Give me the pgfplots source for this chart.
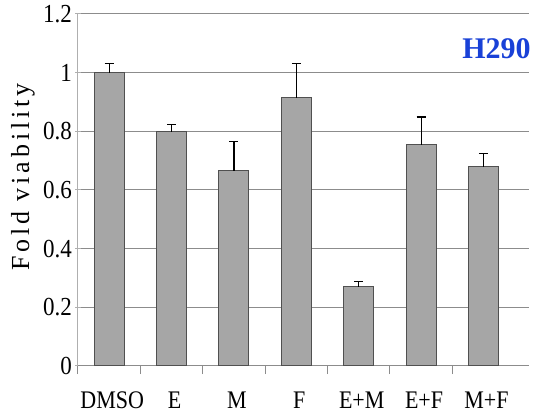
\documentclass[border=0pt]{standalone}
\usepackage{fontspec}
\setmainfont{Liberation Serif}
\usepackage{pgfplots}
\pgfplotsset{compat=1.18}
\definecolor{barfill}{RGB}{166,166,166}
\definecolor{bardraw}{RGB}{80,80,80}
\definecolor{gridc}{RGB}{140,140,140}
\definecolor{axisc}{RGB}{175,175,175}
\definecolor{titleblue}{RGB}{25,65,215}
\begin{document}
\begin{tikzpicture}
\useasboundingbox (-78pt,-48pt) rectangle (459pt,366pt);
\begin{axis}[
  at={(0,0)}, anchor=south west,
  scale only axis, width=451pt, height=352pt,
  xmin=-0.5, xmax=6.73, ymin=0, ymax=1.2,
  axis x line*=bottom, axis y line*=left,
  x axis line style={gridc, line width=1pt, -},
  y axis line style={axisc, line width=1pt, -},
  ytick={0,0.2,0.4,0.6,0.8,1,1.2},
  yticklabels={0,0.2,0.4,0.6,0.8,1,1.2},
  ymajorgrids, grid style={gridc, line width=1pt},
  ytick style={axisc, line width=1pt},
  y tick label style={/pgf/number format/assume math mode=true, font=\fontsize{23}{27}\selectfont, yscale=1.13},
  major tick length=5pt, tick align=center,
  xtick={0,1,2,3,4,5,6},
  xticklabels={DMSO,E,M,F,E+M,E+F,M+F},
  xtick style={draw=none},
  extra x ticks={-0.5,0.5,1.5,2.5,3.5,4.5,5.5},
  extra x tick labels={},
  extra x tick style={xtick style={draw=gridc, line width=1pt}, major tick length=8pt, tick align=outside, grid=none},
  x tick label style={yshift=-19pt, xshift=3pt, font=\fontsize{22}{26}\selectfont, yscale=1.15},
  ylabel={\addfontfeatures{LetterSpace=15}Fold viability},
  ylabel style={font=\fontsize{26}{30}\selectfont, at={(axis description cs:-0.122,0.537)}, anchor=center},
]
\addplot[ybar, bar width=30pt, fill=barfill, draw=bardraw, line width=1pt,
  error bars/.cd, y dir=plus, y explicit,
  error bar style={black, line width=1.1pt},
  error mark options={rotate=90, mark size=4.5pt, black, line width=1.1pt}]
  table[x=x, y=y, y error=e]{
x y e
0 1.000 0.031
1 0.799 0.024
2 0.666 0.100
3 0.914 0.116
4 0.270 0.019
5 0.754 0.095
6 0.680 0.045
};
\node[anchor=east, inner sep=0pt, text=titleblue, font=\fontsize{30}{34}\selectfont\bfseries] at (axis cs:6.76,1.081) {H290};
\end{axis}
\end{tikzpicture}
\end{document}
